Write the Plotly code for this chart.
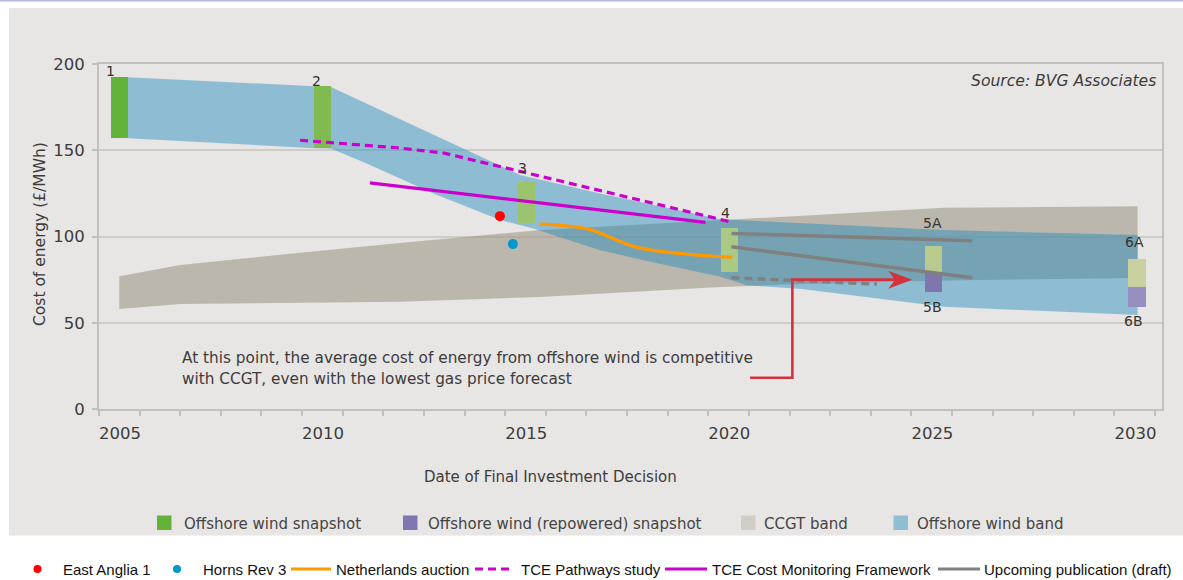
import plotly.graph_objects as go

# ---------------- data ----------------
snap_x = [2005.5, 2010.5, 2015.52, 2020.52, 2025.55, 2030.55]
snap_top = [192.3, 187.0, 131.7, 105.0, 94.6, 86.7]
snap_bottom = [157.0, 151.2, 107.6, 79.6, 79.6, 70.5]
snap_labels = ["1", "2", "3", "4", "5A", "6A"]

repower_x = [2025.55, 2030.55]
repower_top = [79.6, 70.5]
repower_bottom = [68.0, 59.3]
repower_labels = ["5B", "6B"]

wind_top_x = [2005.71, 2010.29, 2010.71, 2015.37, 2017.34, 2020.3, 2022.3, 2025.8, 2030.57]
wind_top_y = [192.3, 187.0, 186.7, 135.6, 125.0, 110.0, 107.8, 103.7, 100.8]
wind_bot_x = [2005.71, 2010.29, 2010.71, 2011.59, 2013.23, 2014.88, 2015.69, 2016.35,
              2017.34, 2018.57, 2020.3, 2020.95, 2022.3, 2025.8, 2030.57]
wind_bot_y = [157.0, 151.2, 151.0, 142.3, 125.0, 109.5, 104.7, 99.5,
              92.1, 85.3, 76.6, 71.8, 69.5, 59.3, 54.5]

ccgt_x = [2005.5, 2007.0, 2009.95, 2012.41, 2015.86, 2020.3, 2022.3, 2025.8, 2030.57]
ccgt_top = [77.0, 83.5, 90.6, 96.3, 103.7, 109.5, 112.4, 116.6, 117.6]
ccgt_bottom = [58.0, 60.8, 61.5, 62.2, 65.0, 70.7, 72.5, 74.5, 76.0]

pathways_x = [2009.95, 2012.4, 2013.5, 2020.6]
pathways_y = [155.8, 151.3, 148.3, 108.2]
monitor_x = [2011.67, 2019.93]
monitor_y = [131.1, 108.2]
nl_x = [2015.86, 2017.04, 2018.25, 2020.59]
nl_y = [107.2, 104.3, 93.7, 87.9]
upcoming_a_x = [2020.57, 2026.5]
upcoming_a_y = [101.8, 97.5]
upcoming_b_x = [2020.57, 2026.5]
upcoming_b_y = [94.0, 76.1]
upcoming_dash_x = [2020.57, 2024.15]
upcoming_dash_y = [76.1, 72.4]

east_anglia_x = [2014.87]
east_anglia_y = [111.8]
horns_rev_x = [2015.19]
horns_rev_y = [95.6]

callout_x = [2021.03, 2022.07, 2022.07, 2024.7]
callout_y = [18.1, 18.1, 75.0, 75.0]
arrow_tip = (2025.02, 75.0)
note_lines = ["At this point, the average cost of energy from offshore wind is competitive",
              "with CCGT, even with the lowest gas price forecast"]
note_x = 2007.0
note_y = [29.6, 17.4]

y_ticks = [0, 50, 100, 150, 200]
x_ticks = [2005, 2010, 2015, 2020, 2025, 2030]

legend1 = [("Offshore wind snapshot", "#63b239"),
           ("Offshore wind (repowered) snapshot", "#7f78b0"),
           ("CCGT band", "#d0ccc6"),
           ("Offshore wind band", "#8fbdd3")]
legend2 = ["East Anglia 1", "Horns Rev 3", "Netherlands auction", "TCE Pathways study",
           "TCE Cost Monitoring Framework", "Upcoming publication (draft)"]

# ---------------- layout geometry ----------------
W, H = 1183, 580
L, R, T, B = 99, 21, 64, 171
PW, PH = W - L - R, H - T - B
XR = [2005, 2031.17]
YR = [0, 200]


def fx(p):
    return (p - L) / PW


def fy(p):
    return (H - B - p) / PH


FONT = "DejaVu Sans"
TXT = "#3c3c3c"

fig = go.Figure()

# CCGT band (base axes)
fig.add_trace(go.Scatter(
    x=ccgt_x + ccgt_x[::-1], y=ccgt_top + ccgt_bottom[::-1],
    fill="toself", fillcolor="rgba(158,152,135,0.6)", line=dict(width=0),
    mode="lines", hoverinfo="skip", showlegend=False))

# Offshore wind band (base axes)
fig.add_trace(go.Scatter(
    x=wind_top_x + wind_bot_x[::-1], y=wind_top_y + wind_bot_y[::-1],
    fill="toself", fillcolor="rgba(34,139,190,0.45)", line=dict(width=0),
    mode="lines", hoverinfo="skip", showlegend=False))

# Snapshot bars (overlay axes, drawn above bands)
snap_colors = ["#63b239", "#80bb52", "#9cc46e", "#a9c985", "#b9ca8e", "#c7d09e"]
fig.add_trace(go.Bar(
    x=snap_x, y=[t - b for t, b in zip(snap_top, snap_bottom)], base=snap_bottom,
    width=0.43, marker=dict(color=snap_colors, line=dict(width=0)), showlegend=False,
    xaxis="x2", yaxis="y2"))
repower_colors = ["#7f76ae", "#968fc0"]
fig.add_trace(go.Bar(
    x=repower_x, y=[t - b for t, b in zip(repower_top, repower_bottom)], base=repower_bottom,
    width=0.43, marker=dict(color=repower_colors, line=dict(width=0)), showlegend=False,
    xaxis="x2", yaxis="y2"))

# Lines
def add_line(xs, ys, color, dash=None, width=3.2, shape="linear"):
    fig.add_trace(go.Scatter(x=xs, y=ys, mode="lines",
                             line=dict(color=color, width=width, dash=dash, shape=shape),
                             showlegend=False, xaxis="x2", yaxis="y2"))


add_line(pathways_x, pathways_y, "#cc00cc", dash="8px,5px")
add_line(monitor_x, monitor_y, "#cc00cc")
add_line(nl_x, nl_y, "#ff9900", shape="spline")
add_line(upcoming_a_x, upcoming_a_y, "#808080", width=3.5)
add_line(upcoming_b_x, upcoming_b_y, "#808080", width=3.5)
add_line(upcoming_dash_x, upcoming_dash_y, "#808080", dash="8px,5px", width=3.5)

# Points
fig.add_trace(go.Scatter(x=east_anglia_x, y=east_anglia_y, mode="markers",
                         marker=dict(color="#ff0000", size=10), showlegend=False,
                         xaxis="x2", yaxis="y2"))
fig.add_trace(go.Scatter(x=horns_rev_x, y=horns_rev_y, mode="markers",
                         marker=dict(color="#0099cc", size=10), showlegend=False,
                         xaxis="x2", yaxis="y2"))

# Callout line
add_line(callout_x, callout_y, "#d2323c", width=2.6)

shapes = []
# background panel and top line
shapes.append(dict(type="rect", xref="paper", yref="paper", layer="below",
                   x0=fx(9), x1=fx(W + 5), y0=fy(535.5), y1=fy(8),
                   fillcolor="#e8e6e4", line=dict(width=0)))
shapes.append(dict(type="rect", xref="paper", yref="paper", layer="below",
                   x0=fx(-5), x1=fx(W + 5), y0=fy(1.5), y1=fy(-2),
                   fillcolor="#b6bbe6", line=dict(width=0)))
# arrowhead
shapes.append(dict(type="path", xref="x", yref="y", xsizemode="pixel", ysizemode="pixel",
                   xanchor=arrow_tip[0], yanchor=arrow_tip[1],
                   path="M0,0 L-24,9 L-17,0 L-24,-9 Z",
                   fillcolor="#d2323c", line=dict(width=0), layer="above"))

annotations = []
# snapshot labels
top_gap = [5.8, 5.5, 13.4, 14.9, 22.7, 17.6]
top_dx = [-9, -6, -3.5, -4, -1.5, -2]
for lab, x, t, g, dx in zip(snap_labels, snap_x, snap_top, top_gap, top_dx):
    annotations.append(dict(x=x, y=t, text=lab, showarrow=False, xanchor="center", yanchor="middle",
                            yshift=g, xshift=dx, font=dict(family=FONT, size=14, color="#333")))
bot_gap = [15.5, 14.6]
bot_dx = [-1.5, -3]
for lab, x, b, g, dx in zip(repower_labels, repower_x, repower_bottom, bot_gap, bot_dx):
    annotations.append(dict(x=x, y=b, text=lab, showarrow=False, xanchor="center", yanchor="middle",
                            yshift=-g, xshift=dx, font=dict(family=FONT, size=14, color="#333")))

# note text
for line, yy in zip(note_lines, note_y):
    annotations.append(dict(x=note_x, y=yy, text=line, showarrow=False, xanchor="left",
                            yanchor="middle", font=dict(family=FONT, size=15.3, color=TXT)))

# source
annotations.append(dict(xref="paper", yref="paper", x=fx(1158), y=fy(81),
                        text="<i>Source: BVG Associates</i>", showarrow=False,
                        xanchor="right", yanchor="middle",
                        font=dict(family=FONT, size=15.6, color=TXT)))
# axis titles
annotations.append(dict(xref="paper", yref="paper", x=fx(40), y=fy(234), textangle=-90,
                        text="Cost of energy (£/MWh)", showarrow=False,
                        xanchor="center", yanchor="middle",
                        font=dict(family=FONT, size=15.5, color=TXT)))
annotations.append(dict(xref="paper", yref="paper", x=fx(550), y=fy(477),
                        text="Date of Final Investment Decision", showarrow=False,
                        xanchor="center", yanchor="middle",
                        font=dict(family=FONT, size=15, color=TXT)))

# legend 1 (inside grey panel)
l1_sq = [157, 403, 741, 893.5]
l1_tx = [182, 426, 762, 914.6]
for (name, col), sx, tx in zip(legend1, l1_sq, l1_tx):
    shapes.append(dict(type="rect", xref="paper", yref="paper",
                       x0=fx(sx), x1=fx(sx + 14.5), y0=fy(530), y1=fy(515.5),
                       fillcolor=col, line=dict(width=0)))
    annotations.append(dict(xref="paper", yref="paper", x=fx(tx), y=fy(524), text=name,
                            showarrow=False, xanchor="left", yanchor="middle",
                            font=dict(family=FONT, size=15, color="#444")))

# legend 2 (white strip)
LY = 569
F2 = "Liberation Sans, Arial, sans-serif"
shapes.append(dict(type="circle", xref="paper", yref="paper",
                   x0=fx(33.5), x1=fx(41.5), y0=fy(LY + 4), y1=fy(LY - 4),
                   fillcolor="#ff0000", line=dict(width=0)))
shapes.append(dict(type="circle", xref="paper", yref="paper",
                   x0=fx(173), x1=fx(181), y0=fy(LY + 4), y1=fy(LY - 4),
                   fillcolor="#0099cc", line=dict(width=0)))
shapes.append(dict(type="line", xref="paper", yref="paper",
                   x0=fx(291), x1=fx(331), y0=fy(LY), y1=fy(LY),
                   line=dict(color="#ff9900", width=3)))
shapes.append(dict(type="line", xref="paper", yref="paper",
                   x0=fx(475), x1=fx(514), y0=fy(LY), y1=fy(LY),
                   line=dict(color="#cc00cc", width=3, dash="8px,5px")))
shapes.append(dict(type="line", xref="paper", yref="paper",
                   x0=fx(665), x1=fx(707), y0=fy(LY), y1=fy(LY),
                   line=dict(color="#cc00cc", width=3)))
shapes.append(dict(type="line", xref="paper", yref="paper",
                   x0=fx(938), x1=fx(980), y0=fy(LY), y1=fy(LY),
                   line=dict(color="#808080", width=3)))
l2_tx = [61, 201, 334, 519, 709.6, 982]
for name, tx in zip(legend2, l2_tx):
    annotations.append(dict(xref="paper", yref="paper", x=fx(tx), y=fy(LY), text=name,
                            showarrow=False, xanchor="left", yanchor="middle",
                            font=dict(family=F2, size=15, color="#111")))

AX = "#c3c0ba"
fig.update_layout(
    width=W, height=H,
    margin=dict(l=L, r=R, t=T, b=B, pad=0),
    paper_bgcolor="white", plot_bgcolor="rgba(0,0,0,0)",
    barmode="overlay", bargap=0, showlegend=False,
    font=dict(family=FONT, color=TXT),
    shapes=shapes, annotations=annotations,
    xaxis=dict(range=XR, tickvals=x_ticks, ticktext=[str(v) for v in x_ticks],
               showgrid=False, zeroline=False, showline=True, linecolor=AX, linewidth=2,
               mirror=True, ticks="outside", ticklen=5, tickwidth=1.5, tickcolor=AX,
               ticklabelshift=21, ticklabelstandoff=3,
               tickfont=dict(family=FONT, size=16.5, color=TXT),
               minor=dict(dtick=1, tick0=2005, ticks="outside", ticklen=5, tickwidth=1.5,
                          tickcolor=AX, showgrid=False)),
    yaxis=dict(range=YR, tickvals=y_ticks, showgrid=True, gridcolor="#cfccc6",
               gridwidth=2, zeroline=False, showline=True, linecolor=AX, linewidth=2,
               mirror=True, ticks="outside", ticklen=5, tickwidth=1.5, tickcolor=AX,
               ticklabelstandoff=4, tickfont=dict(family=FONT, size=16.5, color=TXT)),
    xaxis2=dict(overlaying="x", range=XR, visible=False),
    yaxis2=dict(overlaying="y", range=YR, visible=False),
)

fig.write_html("out.html")
